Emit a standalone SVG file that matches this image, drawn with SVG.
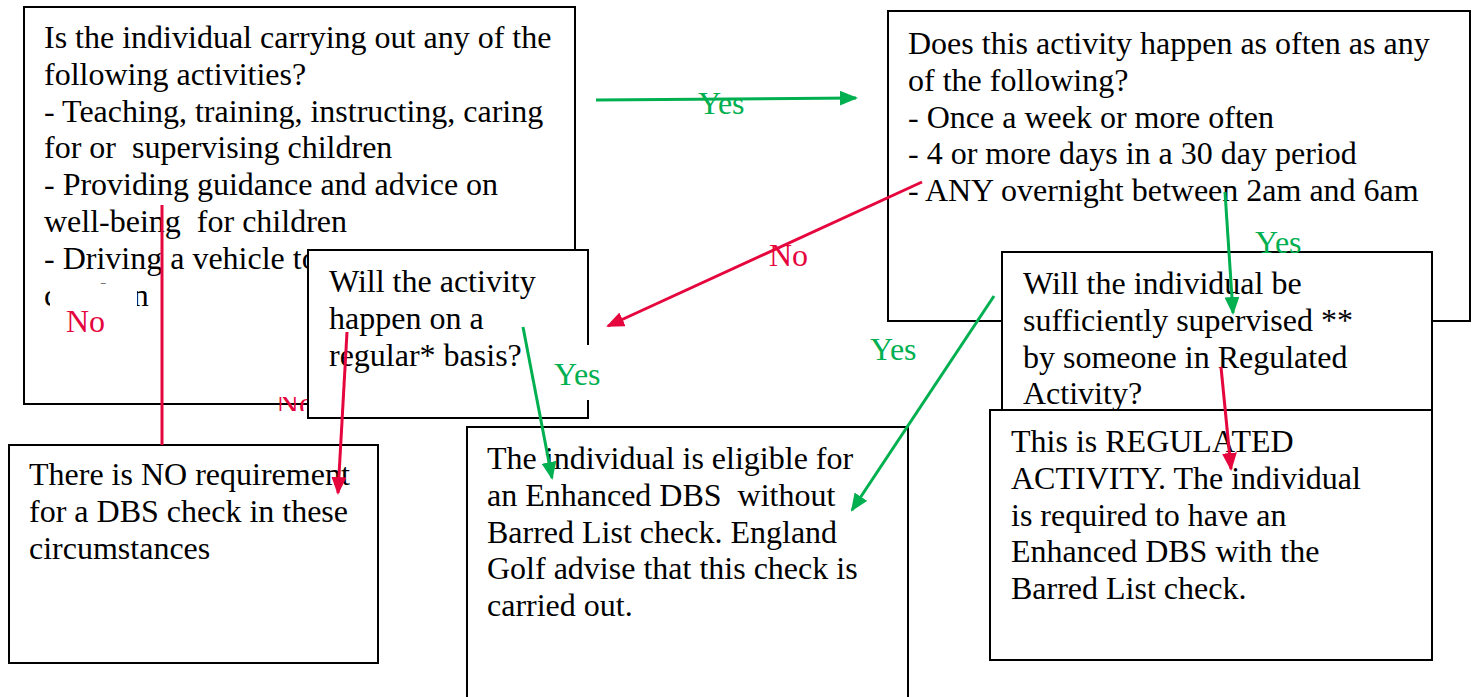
<svg xmlns="http://www.w3.org/2000/svg" width="1477" height="697" viewBox="0 0 1477 697">
<defs>
<style>
.box{fill:#fff;stroke:#000;stroke-width:2}
.t{font-family:"Liberation Serif","Times New Roman",serif;font-size:32px;fill:#000;white-space:pre}
.lbl{font-family:"Liberation Serif","Times New Roman",serif;font-size:32px;white-space:pre}
.yes{fill:#00B050}
.no{fill:#E5063E}
.gl{stroke:#00B050;stroke-width:3;fill:none}
.rl{stroke:#E5063E;stroke-width:3;fill:none}
</style>
<marker id="ag" markerUnits="userSpaceOnUse" markerWidth="18" markerHeight="15" viewBox="0 0 18 15" refX="16" refY="7.5" orient="auto"><path d="M0,0 L18,7.5 L0,15 Z" fill="#00B050"/></marker>
<marker id="ar" markerUnits="userSpaceOnUse" markerWidth="18" markerHeight="15" viewBox="0 0 18 15" refX="16" refY="7.5" orient="auto"><path d="M0,0 L18,7.5 L0,15 Z" fill="#E5063E"/></marker>
<clipPath id="clipNo"><rect x="268" y="397" width="45" height="14"/></clipPath>
</defs>
<rect width="1477" height="697" fill="#fff"/>

<g id="node-activities">
<rect class="box" x="24" y="7" width="551" height="397"/>
<text class="t" x="44" y="48">Is the individual carrying out any of the</text>
<text class="t" x="44" y="84.8">following activities?</text>
<text class="t" x="44" y="121.6">- Teaching, training, instructing, caring</text>
<text class="t" x="44" y="158.4">for or  supervising children</text>
<text class="t" x="44" y="195.2">- Providing guidance and advice on</text>
<text class="t" x="44" y="232">well-being  for children</text>
<text class="t" x="44" y="268.8">- Driving a vehicle to</text>
<text class="t" x="44" y="305.6">children</text>
</g>

<g id="node-frequency">
<rect class="box" x="888" y="11" width="582" height="310"/>
<text class="t" x="908" y="54">Does this activity happen as often as any</text>
<text class="t" x="908" y="90.8">of the following?</text>
<text class="t" x="908" y="127.6">- Once a week or more often</text>
<text class="t" x="908" y="164.4">- 4 or more days in a 30 day period</text>
<text class="t" x="908" y="201.2">- ANY overnight between 2am and 6am</text>
</g>

<g id="label-no-1">
<rect x="50" y="284" width="87" height="60" fill="#fff"/>
<text class="lbl no" x="66" y="332">No</text>
</g>
<g id="label-no-3" clip-path="url(#clipNo)">
<text class="lbl no" x="276" y="414">No</text>
</g>

<g id="node-regular">
<rect class="box" x="308" y="250" width="280" height="168"/>
<text class="t" x="329" y="292">Will the activity</text>
<text class="t" x="329" y="328.8">happen on a</text>
<text class="t" x="329" y="365.6">regular* basis?</text>
</g>

<g id="label-yes-3">
<rect x="549" y="345" width="70" height="55" fill="#fff"/>
<text class="lbl yes" x="554" y="385">Yes</text>
</g>

<g id="node-supervised">
<rect class="box" x="1002" y="252" width="430" height="170"/>
<text class="t" x="1023" y="294">Will the individual be</text>
<text class="t" x="1023" y="330.8">sufficiently supervised **</text>
<text class="t" x="1023" y="367.6">by someone in Regulated</text>
<text class="t" x="1023" y="404.4">Activity?</text>
</g>

<g id="node-no-requirement">
<rect class="box" x="9" y="445" width="369" height="218"/>
<text class="t" x="29" y="485">There is NO requirement</text>
<text class="t" x="29" y="521.8">for a DBS check in these</text>
<text class="t" x="29" y="558.6">circumstances</text>
</g>

<g id="node-enhanced">
<rect class="box" x="467" y="427" width="441" height="290"/>
<text class="t" x="487" y="469">The individual is eligible for</text>
<text class="t" x="487" y="505.8">an Enhanced DBS  without</text>
<text class="t" x="487" y="542.6">Barred List check. England</text>
<text class="t" x="487" y="579.4">Golf advise that this check is</text>
<text class="t" x="487" y="616.2">carried out.</text>
</g>

<g id="node-regulated">
<rect class="box" x="990" y="410" width="442" height="250"/>
<text class="t" x="1011" y="452">This is REGULATED</text>
<text class="t" x="1011" y="488.8">ACTIVITY. The individual</text>
<text class="t" x="1011" y="525.6">is required to have an</text>
<text class="t" x="1011" y="562.4">Enhanced DBS with the</text>
<text class="t" x="1011" y="599.2">Barred List check.</text>
</g>

<g id="connectors">
<line class="gl" x1="596" y1="100" x2="856" y2="98" marker-end="url(#ag)"/>
<line class="rl" x1="922" y1="182" x2="608" y2="326" marker-end="url(#ar)"/>
<line class="gl" x1="1225" y1="192" x2="1233" y2="313" marker-end="url(#ag)"/>
<line class="gl" x1="994" y1="296" x2="852" y2="510" marker-end="url(#ag)"/>
<line class="rl" x1="1221" y1="367" x2="1231" y2="469" marker-end="url(#ar)"/>
<line class="rl" x1="162" y1="205" x2="162" y2="445"/>
<line class="rl" x1="347" y1="332" x2="338" y2="493" marker-end="url(#ar)"/>
<line class="gl" x1="523" y1="327" x2="552" y2="478" marker-end="url(#ag)"/>
</g>

<g id="labels">
<text class="lbl yes" x="698" y="114">Yes</text>
<text class="lbl no" x="769" y="266">No</text>
<text class="lbl yes" x="1255" y="253">Yes</text>
<text class="lbl yes" x="870" y="360">Yes</text>
</g>
</svg>
